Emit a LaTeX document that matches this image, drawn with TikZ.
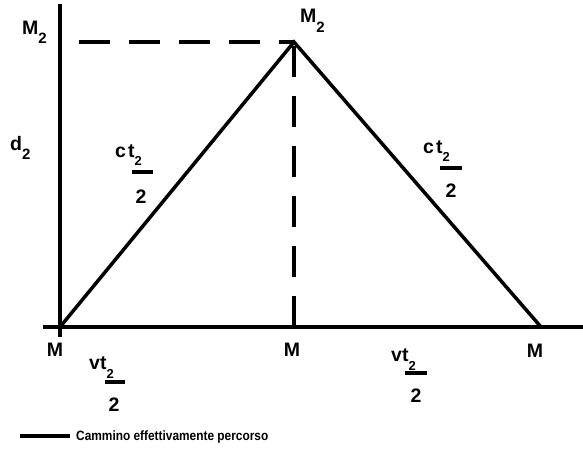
\documentclass[tikz,border=0pt]{standalone}
\usepackage{fontspec}
\setmainfont{Liberation Sans}
\newcommand\mysub[3]{\raisebox{-#2}{\fontsize{#3}{#3}\selectfont #1}}
\begin{document}
\begin{tikzpicture}[x=1pt,y=-1pt,
  axis/.style={line width=4pt},
  path/.style={line width=3.5pt},
  dash line/.style={line width=4pt,dash pattern=on 31pt off 19pt},
  lbl/.style={inner sep=0pt,font=\fontsize{19.5}{19.5}\selectfont\bfseries},
  fbar/.style={line width=3.5pt},
  legend/.style={inner sep=0pt,font=\fontsize{13.5}{13.5}\selectfont\bfseries}]
\useasboundingbox (0,0) rectangle (583,449);
% geometry
\coordinate (O) at (60,327);
\coordinate (Ytop) at (60,4);
\coordinate (Ybot) at (60,337);
\coordinate (Xl) at (43,327);
\coordinate (Xr) at (583,327);
\coordinate (A) at (294,42);
\coordinate (Mid) at (294,327);
\coordinate (R) at (541,327);
\coordinate (Yd) at (60,42);
% axes
\draw[axis] (Ytop) -- (Ybot);
\draw[axis] (Xl) -- (Xr);
% dashed guides
\draw[dash line,dash phase=-19pt] (Yd) -- (A);
\draw[dash line] (Mid) -- (A);
% path
\draw[path,line join=miter] (O) -- (A) -- (R);
% labels
\node[lbl,anchor=base west] (m2l) at (22,35) {M\mysub{2}{9pt}{15}};
\node[lbl,anchor=base west] (m2t) at (300,23) {M\mysub{2}{10pt}{15}};
\node[lbl,anchor=base west] (d2) at (10,151) {d\mysub{2}{9pt}{15}};
% ct/2 left
\node[lbl,anchor=base west] (ctl) at (115,158) {c\kern2pt t\mysub{2}{8pt}{13}};
\coordinate (ctlb1) at (132,172); \coordinate (ctlb2) at (153,172);
\draw[fbar] (ctlb1) -- (ctlb2);
\node[lbl,anchor=base] (ctld) at (141,203) {2};
% ct/2 right
\node[lbl,anchor=base west] (ctr) at (423,154) {c\kern2pt t\mysub{2}{8pt}{13}};
\coordinate (ctrb1) at (440,168); \coordinate (ctrb2) at (462,168);
\draw[fbar] (ctrb1) -- (ctrb2);
\node[lbl,anchor=base] (ctrd) at (451,197) {2};
% M labels
\node[lbl,anchor=base] (ml) at (55,356) {M};
\node[lbl,anchor=base] (mm) at (292,356) {M};
\node[lbl,anchor=base] (mr) at (535,357) {M};
% vt/2 left
\node[lbl,anchor=base west] (vtl) at (89,369) {vt\mysub{2}{9pt}{13}};
\coordinate (vtlb1) at (105,382); \coordinate (vtlb2) at (125,382);
\draw[fbar] (vtlb1) -- (vtlb2);
\node[lbl,anchor=base] (vtld) at (114,411) {2};
% vt/2 right
\node[lbl,anchor=base west] (vtr) at (391,361) {vt\mysub{2}{9pt}{13}};
\coordinate (vtrb1) at (405,373); \coordinate (vtrb2) at (427,373);
\draw[fbar] (vtrb1) -- (vtrb2);
\node[lbl,anchor=base] (vtrd) at (416,402) {2};
% legend
\coordinate (lg1) at (20,436); \coordinate (lg2) at (70,436);
\draw[fbar] (lg1) -- (lg2);
\node[legend,anchor=base west] (lgt) at (76,440) {\scalebox{0.88}[1]{Cammino effettivamente percorso}};
\end{tikzpicture}
\end{document}
